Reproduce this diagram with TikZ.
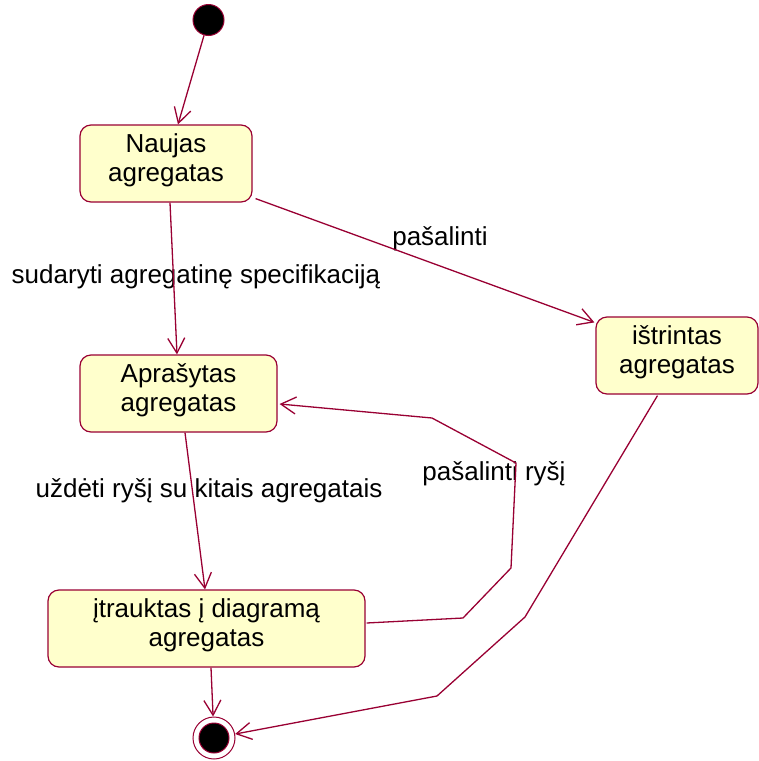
\documentclass[tikz,border=0pt]{standalone}
\usepackage{fontspec}
\setmainfont{Liberation Sans}
\usetikzlibrary{arrows.meta}
\definecolor{edge}{HTML}{990033}
\definecolor{statefill}{HTML}{FFFFCC}
\begin{document}
\begin{tikzpicture}[x=1pt,y=-1pt,
  state/.style={draw=edge, fill=statefill, line width=1.2pt, rounded corners=11pt,
    align=center, inner sep=0pt, text depth=12pt, font=\fontsize{26}{29}\selectfont},
  lbl/.style={font=\fontsize{26}{29}\selectfont, inner sep=0pt},
  trans/.style={draw=edge, line width=1.3pt, -{Straight Barb[length=15pt,width=17pt,line width=1.3pt]}},
  every node/.style={text=black}]
\useasboundingbox (0,0) rectangle (759,761);

% initial and final pseudo-states
\node[circle, fill=black, draw=edge, line width=1pt, minimum size=31pt, inner sep=0pt] (init) at (208.5,20) {};
\node[circle, draw=edge, fill=white, line width=1pt, minimum size=42pt, inner sep=0pt] (final) at (214,738) {};
\node[circle, fill=black, draw=edge, line width=1pt, minimum size=30pt, inner sep=0pt] (finalin) at (214,738) {};

% states
\node[state, minimum width=172pt, minimum height=77pt] (naujas) at (166,163.5) {Naujas\\agregatas};
\node[state, minimum width=197pt, minimum height=77pt] (apr) at (178.5,393.5) {Aprašytas\\agregatas};
\node[state, minimum width=162pt, minimum height=77pt] (istr) at (677,355.5) {ištrintas\\agregatas};
\node[state, minimum width=317pt, minimum height=77pt] (itr) at (206.5,628.5) {įtrauktas į diagramą\\agregatas};

% transition labels
\node[lbl] (l1) at (440,239) {pašalinti};
\node[lbl] (l2) at (196,277) {sudaryti agregatinę specifikaciją};
\node[lbl] (l3) at (209,491) {uždėti ryšį su kitais agregatais};
\node[lbl] (l4) at (494,474) {pašalinti ryšį};

% bend points of the loop and the deletion path
\coordinate (b1) at (463,618);
\coordinate (b2) at (511,568);
\coordinate (b3) at (516,463);
\coordinate (b4) at (432,418);
\coordinate (c1) at (525,617);
\coordinate (c2) at (437,696);

% transitions (shifts are in page direction: positive yshift points up)
\draw[trans] (init) -- ([xshift=12pt]naujas.north);
\draw[trans] ([xshift=4pt]naujas.south) -- ([xshift=-1.5pt]apr.north);
\draw[trans] ([xshift=3pt,yshift=4pt]naujas.south east) -- ([xshift=-1pt,yshift=-6pt]istr.north west);
\draw[trans] ([xshift=6.5pt]apr.south) -- ([xshift=-1.5pt]itr.north);
\draw[trans] ([yshift=5.5pt,xshift=1pt]itr.east) -- (b1) -- (b2) -- (b3) -- (b4) -- ([yshift=-10.5pt,xshift=2pt]apr.east);
\draw[trans] ([xshift=-19.5pt,yshift=-1pt]istr.south) -- (c1) -- (c2) -- (final);
\draw[trans] ([xshift=4.5pt]itr.south) -- (final);
\end{tikzpicture}
\end{document}
